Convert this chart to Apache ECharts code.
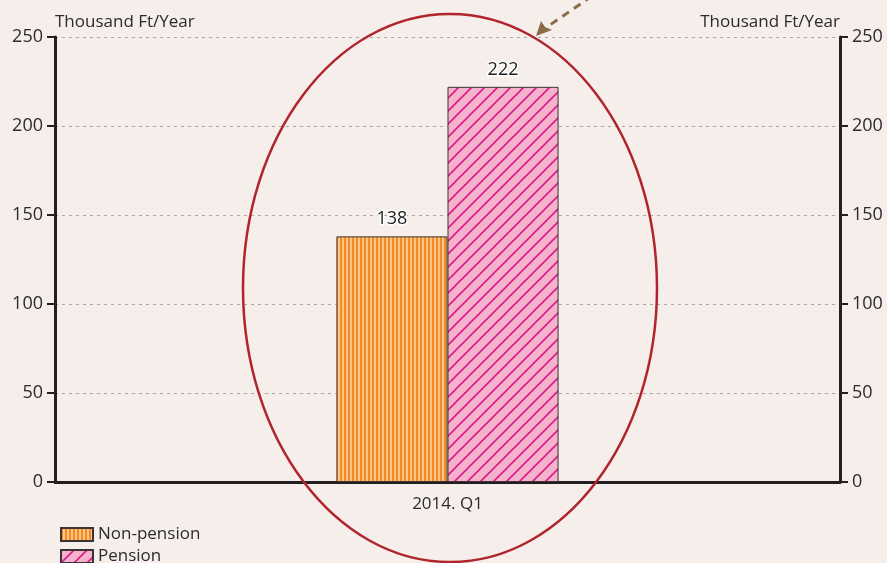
<!DOCTYPE html>
<html>
<head>
<meta charset="utf-8">
<script src="https://cdn.jsdelivr.net/npm/echarts@6/dist/echarts.min.js"></script>
<style>
  html, body { margin: 0; padding: 0; background: #f6eeeb; }
  #chart { width: 887px; height: 563px; }
</style>
</head>
<body>
<div id="chart"></div>
<script>
const categories = ['2014. Q1']
const nonPension = [138]
const pension = [222]
const seriesNames = ['Non-pension', 'Pension']
const unitLabel = 'Thousand Ft/Year'

// hatch fills drawn on small canvases
const makeStripes = () => {
  const c = document.createElement('canvas')
  c.width = 4; c.height = 4
  const ctx = c.getContext('2d')
  ctx.fillStyle = '#fdc58e'
  ctx.fillRect(0, 0, 4, 4)
  ctx.fillStyle = '#f58b1f'
  ctx.fillRect(0, 0, 2, 4)
  return c
}

const makeDiagonal = () => {
  const s = 13
  const c = document.createElement('canvas')
  c.width = s; c.height = s
  const ctx = c.getContext('2d')
  ctx.fillStyle = '#f7b2cb'
  ctx.fillRect(0, 0, s, s)
  ctx.strokeStyle = '#d81b8d'
  ctx.lineWidth = 1.6
  ctx.beginPath()
  ctx.moveTo(-2, s + 2); ctx.lineTo(s + 2, -2)
  ctx.moveTo(-2, 2); ctx.lineTo(2, -2)
  ctx.moveTo(s - 2, s + 2); ctx.lineTo(s + 2, s - 2)
  ctx.stroke()
  return c
}

const orangeFill = { image: makeStripes(), repeat: 'repeat' }
const pinkFill = { image: makeDiagonal(), repeat: 'repeat' }

const font = '"Open Sans", Lato, sans-serif'
const textColor = '#2b2b2b'

const yAxisBase = {
  type: 'value',
  min: 0,
  max: 250,
  interval: 50,
  name: unitLabel,
  nameGap: 6,
  nameTextStyle: { color: textColor, fontSize: 17, fontFamily: font, verticalAlign: 'bottom' },
  axisLine: { show: true, lineStyle: { color: '#231f20', width: 3 } },
  axisTick: { show: true, length: 8, lineStyle: { color: '#231f20', width: 2 } },
  axisLabel: { color: textColor, fontSize: 18, fontFamily: font, margin: 12 },
}

const legendBase = {
  orient: 'vertical',
  left: 55,
  itemWidth: 32,
  itemHeight: 13,
  icon: 'rect',
  textStyle: { color: textColor, fontSize: 17, fontFamily: font },
}

const chart = echarts.init(document.getElementById('chart'))

chart.setOption({
  backgroundColor: '#f6eeeb',
  animation: false,
  grid: { top: 37, left: 55, right: 47, bottom: 81 },
  legend: [
    { ...legendBase, top: 521, data: [seriesNames[0]] },
    { ...legendBase, top: 543, data: [seriesNames[1]] },
  ],
  xAxis: {
    type: 'category',
    data: categories,
    axisLine: { lineStyle: { color: '#231f20', width: 3 } },
    axisTick: { show: false },
    axisLabel: { color: textColor, fontSize: 17, fontFamily: font, margin: 14 },
  },
  yAxis: [
    {
      ...yAxisBase,
      position: 'left',
      nameTextStyle: { ...yAxisBase.nameTextStyle, align: 'left' },
      splitLine: { show: true, lineStyle: { color: '#a8a8a8', type: [3, 4], width: 1 } },
    },
    {
      ...yAxisBase,
      position: 'right',
      nameTextStyle: { ...yAxisBase.nameTextStyle, align: 'right' },
      splitLine: { show: false },
    },
  ],
  series: [
    {
      name: seriesNames[0],
      type: 'bar',
      data: nonPension,
      barGap: '0%',
      barCategoryGap: '71.7%',
      itemStyle: { color: orangeFill, borderColor: '#3c3434', borderWidth: 1 },
      label: {
        show: true, position: 'top', distance: 8,
        color: '#222', fontSize: 18, fontFamily: font,
        textBorderColor: '#fff', textBorderWidth: 3,
      },
      emphasis: { disabled: true },
    },
    {
      name: seriesNames[1],
      type: 'bar',
      data: pension,
      itemStyle: { color: pinkFill, borderColor: '#3c3434', borderWidth: 1 },
      label: {
        show: true, position: 'top', distance: 8,
        color: '#222', fontSize: 18, fontFamily: font,
        textBorderColor: '#fff', textBorderWidth: 3,
      },
      emphasis: { disabled: true },
    },
  ],
  graphic: [
    {
      type: 'ellipse',
      shape: { cx: 450, cy: 288, rx: 207, ry: 274 },
      style: { fill: 'none', stroke: '#b0252b', lineWidth: 2.5 },
      z: 100,
    },
    {
      type: 'line',
      shape: { x1: 592, y1: -4, x2: 547, y2: 27 },
      style: { stroke: '#8c6b47', lineWidth: 3, lineDash: [8, 6] },
      z: 100,
    },
    {
      type: 'polygon',
      shape: { points: [[536, 36], [541, 21], [545, 27], [552, 30]] },
      style: { fill: '#8c6b47' },
      z: 100,
    },
  ],
})
</script>
</body>
</html>
